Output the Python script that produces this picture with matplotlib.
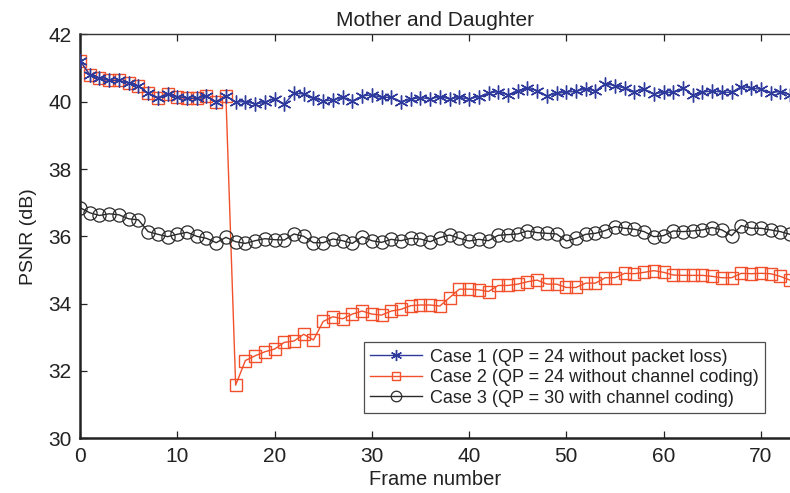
import numpy as np
import matplotlib
matplotlib.use("Agg")
import matplotlib.pyplot as plt

plt.rcParams['font.family'] = ['Liberation Sans', 'DejaVu Sans']

frames = np.arange(74)

# PSNR values
case1 = [41.22, 40.80, 40.70, 40.63, 40.63, 40.55, 40.47, 40.25, 40.12, 40.23,
         40.15, 40.10, 40.10, 40.17, 40.00, 40.17, 39.99, 40.00, 39.93, 39.98,
         40.09, 39.93, 40.25, 40.23, 40.12, 40.02, 40.05, 40.13, 40.02, 40.17,
         40.20, 40.13, 40.13, 40.00, 40.07, 40.12, 40.08, 40.15, 40.08, 40.13,
         40.08, 40.15, 40.25, 40.30, 40.20, 40.33, 40.40, 40.33, 40.17, 40.25,
         40.28, 40.31, 40.38, 40.32, 40.53, 40.48, 40.40, 40.30, 40.37, 40.23,
         40.28, 40.28, 40.40, 40.20, 40.28, 40.32, 40.28, 40.28, 40.45, 40.40,
         40.37, 40.27, 40.30, 40.20]

case2 = case1[:16] + [
    31.58, 32.31, 32.45, 32.57, 32.65, 32.85, 32.89, 33.09, 32.92, 33.47,
    33.61, 33.55, 33.69, 33.78, 33.69, 33.66, 33.78, 33.83, 33.94, 33.96,
    33.96, 33.93, 34.18, 34.43, 34.43, 34.41, 34.36, 34.54, 34.54, 34.58,
    34.65, 34.70, 34.58, 34.58, 34.48, 34.48, 34.61, 34.61, 34.77, 34.77,
    34.90, 34.89, 34.93, 34.98, 34.93, 34.85, 34.84, 34.84, 34.84, 34.81,
    34.77, 34.77, 34.90, 34.89, 34.90, 34.89, 34.81, 34.70]

case3 = [36.85, 36.70, 36.62, 36.67, 36.64, 36.52, 36.49, 36.14, 36.06, 35.99,
         36.06, 36.12, 36.00, 35.94, 35.81, 35.97, 35.84, 35.79, 35.87, 35.93,
         35.90, 35.89, 36.07, 36.00, 35.81, 35.81, 35.92, 35.87, 35.79, 35.99,
         35.87, 35.82, 35.91, 35.87, 35.94, 35.92, 35.84, 35.96, 36.04, 35.94,
         35.86, 35.91, 35.87, 36.03, 36.05, 36.07, 36.16, 36.11, 36.09, 36.07,
         35.86, 35.94, 36.06, 36.09, 36.17, 36.29, 36.24, 36.21, 36.14, 35.99,
         36.02, 36.16, 36.14, 36.16, 36.19, 36.26, 36.19, 36.02, 36.32, 36.24,
         36.24, 36.19, 36.14, 36.06]

labels = ["Case 1 (QP = 24 without packet loss)",
          "Case 2 (QP = 24 without channel coding)",
          "Case 3 (QP = 30 with channel coding)"]

fig = plt.figure(figsize=(7.9, 4.93), dpi=100)
ax = fig.add_axes([0.1013, 0.111, 0.8987, 0.8193])

# asterisk marker like MATLAB '*'
star = (6, 2, 0)

ax.plot(frames, case2, color='#f2502a', lw=1.0, marker='s', ms=8,
        mfc='none', mec='#f2502a', mew=1.0, label=labels[1], zorder=2)
ax.plot(frames, case1, color='#2d3a9c', lw=1.0, marker=star, ms=10,
        mfc='#2d3a9c', mec='#2d3a9c', mew=1.0, label=labels[0], zorder=3)
ax.plot(frames, case3, color='#2a2a2a', lw=1.0, marker='o', ms=9.5,
        mfc='none', mec='#2a2a2a', mew=0.9, label=labels[2], zorder=2)

ax.set_xlim(0, 73)
ax.set_ylim(30, 42)
ax.set_xticks(np.arange(0, 71, 10))
ax.set_yticks(np.arange(30, 43, 2))
ax.tick_params(direction='in', top=True, right=False, labelsize=15,
               length=5, width=0.9, colors='#222222', pad=6)
for side in ['left', 'bottom']:
    ax.spines[side].set_linewidth(1.8)
    ax.spines[side].set_color('#222222')
ax.spines['top'].set_linewidth(1.0)
ax.spines['top'].set_color('#333333')
ax.spines['right'].set_visible(False)

ax.set_title("Mother and Daughter", fontsize=15, color='#222222', pad=6)
ax.set_xlabel("Frame number", fontsize=14.5, color='#222222', labelpad=3)
ax.set_ylabel("PSNR (dB)", fontsize=14, color='#222222', labelpad=8)

handles, labs = ax.get_legend_handles_labels()
order = [1, 0, 2]
leg = ax.legend([handles[i] for i in order], [labs[i] for i in order],
                loc='lower right', bbox_to_anchor=(0.977, 0.040),
                fontsize=13, frameon=True, fancybox=False, borderpad=0.35,
                handlelength=2.9, handletextpad=0.4, labelspacing=0.2,
                markerscale=0.8)
leg.get_frame().set_edgecolor('#222222')
leg.get_frame().set_linewidth(0.9)
for t in leg.get_texts():
    t.set_color('#222222')

fig.savefig("out.png", dpi=100)
